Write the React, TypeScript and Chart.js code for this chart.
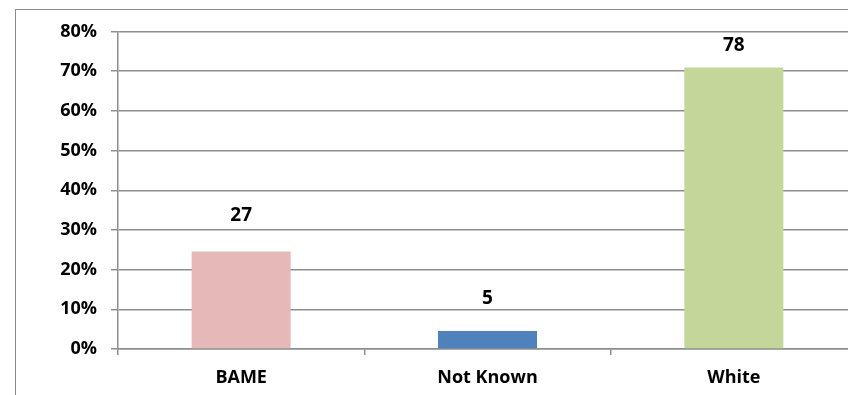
import React, { useEffect, useRef } from "react";
import { Chart, registerables } from "chart.js";

Chart.register(...registerables);

// Ethnicity groups and head counts; bars show each group's share of the total.
const categories = ["BAME", "Not Known", "White"];
const counts = [27, 5, 78];
const barColors = ["#E6B8B7", "#4F81BD", "#C4D79B"];
const yTicks = [0, 0.1, 0.2, 0.3, 0.4, 0.5, 0.6, 0.7, 0.8];

// How far (px) each count label sits above its bar.
const labelLift = [36, 32, 22];

const FONT = "'Open Sans', 'DejaVu Sans', sans-serif";
const GRID = "#8e8e8e";

const total = counts.reduce((a, b) => a + b, 0);
const shares = counts.map((c) => c / total);

const countLabels = {
  id: "countLabels",
  afterDatasetsDraw(chart: any) {
    const meta = chart.getDatasetMeta(0);
    const ctx = chart.ctx;
    ctx.save();
    ctx.font = `bold 19px ${FONT}`;
    ctx.fillStyle = "#000";
    ctx.textAlign = "center";
    ctx.textBaseline = "middle";
    meta.data.forEach((bar: any, i: number) => {
      ctx.fillText(String(counts[i]), bar.x, bar.y - labelLift[i]);
    });
    ctx.restore();
  },
};

export default function App() {
  const ref = useRef<HTMLCanvasElement>(null);

  useEffect(() => {
    if (!ref.current) return;
    const chart = new Chart(ref.current, {
      type: "bar",
      data: {
        labels: categories,
        datasets: [
          {
            data: shares,
            backgroundColor: barColors,
            borderWidth: 0,
            categoryPercentage: 1,
            barPercentage: 0.402,
          },
        ],
      },
      options: {
        animation: false,
        responsive: false,
        maintainAspectRatio: false,
        layout: { padding: { top: 31.5, right: 3, left: 0, bottom: 0 } },
        plugins: {
          legend: { display: false },
          tooltip: { enabled: false },
        },
        scales: {
          x: {
            grid: {
              display: true,
              drawOnChartArea: false,
              offset: true,
              color: GRID,
              lineWidth: 1.5,
              tickLength: 6,
            },
            border: { display: true, color: GRID, width: 1.5 },
            ticks: {
              color: "#000",
              font: { family: FONT, size: 18, weight: "bold" },
              padding: 12,
              maxRotation: 0,
            },
            afterFit: (s: any) => {
              s.height = 46;
            },
          },
          y: {
            min: 0,
            max: 0.8,
            afterBuildTicks: (s: any) => {
              s.ticks = yTicks.map((v) => ({ value: v }));
            },
            grid: {
              color: GRID,
              lineWidth: 1.5,
              tickLength: 7,
            },
            border: { display: true, color: GRID, width: 1.5 },
            ticks: {
              color: "#000",
              font: { family: FONT, size: 18, weight: "bold" },
              padding: 14,
              callback: (v: any) => `${Math.round(Number(v) * 100)}%`,
            },
            afterFit: (s: any) => {
              s.width = 118;
            },
          },
        },
      },
      plugins: [countLabels],
    });
    return () => chart.destroy();
  }, []);

  return (
    <div
      style={{
        position: "fixed",
        left: 0,
        top: 0,
        width: 848,
        height: 395,
        overflow: "hidden",
        background: "#fff",
      }}
    >
      <div
        style={{
          position: "absolute",
          left: 15,
          top: 9,
          width: 900,
          height: 500,
          borderLeft: "1.5px solid #8a8a8a",
          borderTop: "1.5px solid #8a8a8a",
        }}
      />
      <canvas
        ref={ref}
        width={860}
        height={395}
        style={{ position: "absolute", left: 0, top: 0 }}
      />
    </div>
  );
}
